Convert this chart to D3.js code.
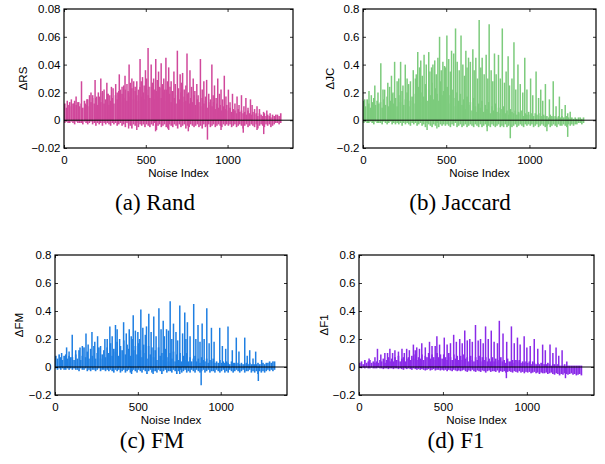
<!DOCTYPE html>
<html><head><meta charset="utf-8">
<script src="https://cdn.jsdelivr.net/npm/d3@7"></script>
<style>body{margin:0;background:#fff}</style></head>
<body>
<svg id="chart" width="605" height="464"></svg>
<script>
// ---------- DATA ----------
const BIN = 10;
const xTickValues = [0, 500, 1000];
const yTicksA = [-0.02, 0, 0.02, 0.04, 0.06, 0.08];
const yTicksB = [-0.2, 0, 0.2, 0.4, 0.6, 0.8];

// (a) Rand
const randBandPos = [0.012,0.009,0.011,0.013,0.010,0.012,0.014,0.011,0.013,0.010,
0.012,0.009,0.014,0.011,0.015,0.010,0.013,0.018,0.012,0.016,
0.011,0.017,0.013,0.020,0.012,0.015,0.019,0.011,0.014,0.016,
0.012,0.018,0.015,0.021,0.013,0.019,0.016,0.022,0.014,0.020,
0.017,0.023,0.015,0.021,0.018,0.014,0.024,0.017,0.020,0.015,
0.022,0.018,0.016,0.024,0.019,0.015,0.021,0.017,0.023,0.016,
0.020,0.014,0.022,0.017,0.019,0.013,0.021,0.016,0.012,0.018,
0.015,0.020,0.013,0.017,0.014,0.019,0.012,0.016,0.013,0.018,
0.011,0.015,0.013,0.010,0.016,0.012,0.014,0.009,0.013,0.011,
0.010,0.013,0.008,0.012,0.009,0.011,0.007,0.010,0.008,0.011,
0.007,0.009,0.006,0.008,0.007,0.005,0.008,0.006,0.007,0.005,
0.006,0.004,0.007,0.005,0.004,0.006,0.004,0.005,0.003,0.005,
0.004,0.003,0.005,0.003,0.004,0.003,0.002,0.004,0.003,0.004,
0.004,0.003,0.005];
const randBandNeg = [-0.002,-0.001,-0.002,-0.002,-0.001,-0.002,-0.003,-0.001,-0.002,-0.002,
-0.002,-0.003,-0.001,-0.002,-0.003,-0.002,-0.001,-0.003,-0.002,-0.004,
-0.002,-0.003,-0.002,-0.004,-0.002,-0.003,-0.002,-0.003,-0.004,-0.002,
-0.003,-0.002,-0.004,-0.003,-0.002,-0.004,-0.003,-0.005,-0.002,-0.003,
-0.004,-0.006,-0.003,-0.004,-0.002,-0.005,-0.003,-0.004,-0.003,-0.005,
-0.003,-0.004,-0.005,-0.003,-0.004,-0.002,-0.007,-0.004,-0.003,-0.005,
-0.004,-0.003,-0.005,-0.006,-0.003,-0.004,-0.005,-0.003,-0.004,-0.006,
-0.003,-0.005,-0.004,-0.003,-0.006,-0.004,-0.005,-0.003,-0.004,-0.005,
-0.004,-0.003,-0.005,-0.004,-0.006,-0.003,-0.005,-0.004,-0.003,-0.005,
-0.004,-0.003,-0.005,-0.004,-0.003,-0.004,-0.005,-0.003,-0.004,-0.003,
-0.004,-0.003,-0.005,-0.004,-0.003,-0.005,-0.004,-0.003,-0.004,-0.006,
-0.004,-0.003,-0.005,-0.004,-0.003,-0.004,-0.005,-0.003,-0.006,-0.004,
-0.003,-0.004,-0.005,-0.003,-0.004,-0.003,-0.005,-0.004,-0.003,-0.002,
-0.002,-0.003,-0.002];
const randSpikeIdx = [20,45,74,107,130,156,175,190,210,225,245,262,280,300,316,338,355,373,385,398,415,426,445,465,480,498,514,533,548,561,578,594,610,623,640,655,672,693,710,725,752,770,790,812,834,855,872,904,920,940,960,980,1005,1030,1058,1085,1112,1140,1150,1195,1220,1260,
60,90,140,165,200,235,270,290,325,345,365,392,405,435,455,472,490,505,520,540,555,570,585,602,615,632,648,662,680,700,718,735,745,760,780,800,820,845,865,885,895,912,930,950,970,990,1015,1045,1070,1100,1125,1165,1180,1240,
395,445,560,640,760,877,960,1096,1180,1221];
const randSpikeVal = [0.014,0.015,0.017,0.028,0.012,0.018,0.016,0.029,0.020,0.030,0.022,0.027,0.018,0.023,0.026,0.033,0.024,0.032,0.026,0.040,0.030,0.028,0.028,0.044,0.031,0.036,0.052,0.040,0.030,0.044,0.035,0.041,0.030,0.045,0.038,0.028,0.035,0.050,0.033,0.034,0.048,0.036,0.030,0.026,0.044,0.028,0.029,0.040,0.025,0.030,0.022,0.032,0.022,0.019,0.017,0.018,0.016,0.015,0.011,0.008,0.006,0.005,
0.012,0.013,0.015,0.020,0.017,0.021,0.019,0.024,0.020,0.022,0.025,0.021,0.027,0.024,0.022,0.028,0.025,0.030,0.024,0.027,0.022,0.029,0.024,0.026,0.022,0.028,0.024,0.021,0.026,0.023,0.027,0.022,0.025,0.020,0.024,0.021,0.018,0.022,0.017,0.019,0.015,0.018,0.016,0.019,0.015,0.017,0.013,0.012,0.011,0.010,0.009,0.008,0.010,0.007,
-0.006,-0.007,-0.008,-0.007,-0.008,-0.014,-0.007,-0.009,-0.007,-0.010];

// (b) Jaccard
const jacBandPos = [0.14,0.10,0.15,0.12,0.09,0.13,0.16,0.11,0.14,0.12,
0.13,0.09,0.15,0.11,0.17,0.10,0.14,0.19,0.12,0.16,
0.10,0.18,0.13,0.21,0.11,0.15,0.20,0.10,0.14,0.17,
0.12,0.19,0.15,0.24,0.13,0.20,0.17,0.26,0.14,0.22,
0.18,0.27,0.15,0.23,0.19,0.14,0.28,0.18,0.21,0.15,
0.24,0.18,0.12,0.22,0.16,0.10,0.20,0.14,0.19,0.11,
0.15,0.08,0.17,0.11,0.13,0.07,0.16,0.10,0.06,0.12,
0.09,0.14,0.06,0.11,0.08,0.13,0.05,0.10,0.07,0.12,
0.06,0.09,0.05,0.08,0.10,0.05,0.07,0.04,0.08,0.06,
0.05,0.07,0.04,0.06,0.05,0.07,0.03,0.05,0.04,0.06,
0.04,0.05,0.03,0.05,0.04,0.03,0.05,0.03,0.04,0.03,
0.03,0.02,0.04,0.03,0.02,0.03,0.02,0.03,0.02,0.03,
0.02,0.02,0.03,0.02,0.01,0.02,0.01,0.02,0.01,0.02,
0.02,0.01,0.02];
const jacBandNeg = [-0.02,-0.01,-0.02,-0.02,-0.01,-0.02,-0.03,-0.01,-0.02,-0.02,
-0.02,-0.03,-0.01,-0.02,-0.03,-0.02,-0.01,-0.03,-0.02,-0.03,
-0.02,-0.03,-0.02,-0.04,-0.02,-0.03,-0.02,-0.03,-0.04,-0.02,
-0.03,-0.02,-0.04,-0.03,-0.02,-0.04,-0.03,-0.05,-0.02,-0.03,
-0.04,-0.05,-0.03,-0.04,-0.02,-0.05,-0.03,-0.04,-0.03,-0.04,
-0.03,-0.04,-0.05,-0.03,-0.04,-0.02,-0.05,-0.04,-0.03,-0.05,
-0.04,-0.03,-0.05,-0.04,-0.03,-0.04,-0.05,-0.03,-0.04,-0.05,
-0.03,-0.05,-0.04,-0.03,-0.05,-0.04,-0.05,-0.03,-0.04,-0.05,
-0.04,-0.03,-0.05,-0.04,-0.05,-0.03,-0.05,-0.04,-0.03,-0.05,
-0.04,-0.03,-0.05,-0.04,-0.03,-0.04,-0.05,-0.03,-0.04,-0.03,
-0.04,-0.03,-0.05,-0.04,-0.03,-0.05,-0.04,-0.03,-0.04,-0.05,
-0.04,-0.03,-0.05,-0.04,-0.03,-0.04,-0.05,-0.03,-0.04,-0.04,
-0.03,-0.04,-0.05,-0.03,-0.04,-0.03,-0.04,-0.03,-0.03,-0.02,
-0.02,-0.03,-0.02];
const jacSpikeIdx = [10,36,71,107,130,149,171,190,205,226,254,274,302,315,329,347,367,395,412,431,460,490,504,532,556,589,618,634,660,678,698,716,740,758,790,814,837,872,907,931,972,1007,1040,1068,1096,1143,1180,1215,1245,
50,90,120,160,180,215,240,265,285,320,340,356,380,402,420,440,450,470,480,496,515,525,545,566,578,600,610,625,645,668,688,708,728,750,770,780,800,825,850,860,880,895,918,945,960,985,1020,1055,1080,1120,1160,1195,1230,
385,444,746,885,1105,1230];
const jacSpikeVal = [0.15,0.21,0.25,0.41,0.22,0.27,0.32,0.42,0.28,0.42,0.40,0.26,0.36,0.30,0.49,0.43,0.47,0.49,0.38,0.43,0.60,0.39,0.61,0.50,0.66,0.61,0.50,0.45,0.51,0.45,0.72,0.45,0.47,0.69,0.48,0.47,0.66,0.46,0.56,0.40,0.45,0.30,0.35,0.22,0.26,0.28,0.17,0.11,0.06,
0.18,0.20,0.22,0.24,0.20,0.30,0.25,0.30,0.28,0.33,0.38,0.32,0.40,0.35,0.40,0.33,0.45,0.36,0.42,0.38,0.44,0.35,0.48,0.42,0.36,0.40,0.32,0.38,0.42,0.36,0.30,0.38,0.33,0.30,0.36,0.28,0.33,0.30,0.27,0.35,0.25,0.30,0.22,0.26,0.20,0.22,0.18,0.16,0.14,0.15,0.10,0.08,0.05,
-0.07,-0.06,-0.08,-0.13,-0.08,-0.12];

// (c) FM
const fmBandPos = [0.08,0.06,0.09,0.07,0.05,0.08,0.09,0.06,0.08,0.07,
0.07,0.05,0.09,0.06,0.12,0.05,0.08,0.14,0.07,0.11,
0.06,0.13,0.08,0.15,0.06,0.10,0.14,0.06,0.09,0.12,
0.07,0.14,0.10,0.17,0.08,0.13,0.11,0.18,0.08,0.15,
0.12,0.19,0.09,0.16,0.13,0.08,0.20,0.12,0.15,0.09,
0.17,0.12,0.07,0.16,0.10,0.06,0.15,0.09,0.14,0.07,
0.12,0.05,0.14,0.08,0.10,0.05,0.13,0.07,0.04,0.10,
0.06,0.11,0.04,0.09,0.05,0.10,0.04,0.08,0.05,0.10,
0.04,0.07,0.04,0.06,0.08,0.04,0.06,0.03,0.07,0.05,
0.04,0.06,0.03,0.05,0.04,0.06,0.03,0.04,0.03,0.05,
0.03,0.04,0.03,0.04,0.03,0.02,0.04,0.03,0.03,0.02,
0.03,0.02,0.03,0.02,0.02,0.03,0.02,0.03,0.02,0.02,
0.02,0.02,0.03,0.02,0.02,0.03,0.02,0.03,0.03,0.04,
0.03,0.04,0.04];
const fmBandNeg = [-0.01,-0.02,-0.01,-0.02,-0.01,-0.02,-0.02,-0.01,-0.02,-0.01,
-0.02,-0.01,-0.02,-0.02,-0.03,-0.01,-0.02,-0.02,-0.01,-0.03,
-0.02,-0.03,-0.02,-0.02,-0.03,-0.02,-0.01,-0.03,-0.02,-0.02,
-0.03,-0.02,-0.03,-0.02,-0.03,-0.04,-0.02,-0.03,-0.02,-0.04,
-0.03,-0.02,-0.04,-0.03,-0.02,-0.04,-0.03,-0.02,-0.03,-0.04,
-0.02,-0.03,-0.04,-0.02,-0.03,-0.05,-0.03,-0.02,-0.04,-0.03,
-0.03,-0.04,-0.02,-0.03,-0.05,-0.03,-0.02,-0.04,-0.03,-0.03,
-0.04,-0.02,-0.03,-0.05,-0.03,-0.02,-0.04,-0.03,-0.02,-0.04,
-0.03,-0.04,-0.02,-0.03,-0.04,-0.02,-0.03,-0.04,-0.03,-0.02,
-0.04,-0.03,-0.02,-0.04,-0.03,-0.03,-0.04,-0.02,-0.03,-0.04,
-0.03,-0.02,-0.04,-0.03,-0.04,-0.02,-0.03,-0.04,-0.03,-0.02,
-0.03,-0.04,-0.03,-0.02,-0.04,-0.03,-0.03,-0.02,-0.04,-0.03,
-0.04,-0.03,-0.05,-0.03,-0.04,-0.03,-0.04,-0.03,-0.02,-0.03,
-0.02,-0.03,-0.02];
const fmSpikeIdx = [70,104,151,187,223,257,301,331,365,375,414,448,472,500,518,552,566,596,627,653,673,695,715,753,783,799,837,863,888,916,944,994,1044,1094,1145,1175,1211,1247,
40,85,125,165,200,240,275,315,345,390,430,460,485,510,530,545,580,610,640,660,685,705,730,740,770,790,815,850,875,900,930,960,1010,1030,1070,1110,1160,1195,
462,592,753,882,1227];
const fmSpikeVal = [0.14,0.23,0.14,0.24,0.25,0.22,0.20,0.29,0.30,0.27,0.32,0.27,0.37,0.25,0.41,0.29,0.38,0.36,0.42,0.33,0.27,0.47,0.31,0.44,0.39,0.32,0.45,0.30,0.31,0.42,0.28,0.28,0.29,0.21,0.21,0.12,0.11,0.05,
0.10,0.11,0.12,0.15,0.16,0.18,0.15,0.20,0.22,0.20,0.24,0.22,0.26,0.20,0.28,0.23,0.25,0.22,0.27,0.22,0.26,0.20,0.25,0.19,0.24,0.20,0.22,0.20,0.18,0.20,0.17,0.18,0.15,0.13,0.12,0.11,0.08,0.06,
-0.05,-0.05,-0.05,-0.13,-0.10];

// (d) F1
const f1BandPos = [0.03,0.04,0.02,0.05,0.03,0.04,0.05,0.03,0.04,0.03,
0.04,0.03,0.05,0.04,0.06,0.03,0.05,0.07,0.04,0.06,
0.04,0.07,0.05,0.08,0.04,0.06,0.07,0.04,0.06,0.07,
0.05,0.08,0.06,0.09,0.05,0.07,0.06,0.09,0.05,0.08,
0.07,0.10,0.06,0.09,0.07,0.05,0.10,0.07,0.09,0.06,
0.09,0.07,0.05,0.10,0.07,0.05,0.09,0.06,0.08,0.05,
0.08,0.05,0.09,0.06,0.07,0.04,0.08,0.05,0.04,0.07,
0.05,0.08,0.04,0.07,0.05,0.07,0.04,0.06,0.04,0.07,
0.04,0.06,0.04,0.05,0.07,0.04,0.05,0.03,0.06,0.04,
0.04,0.05,0.03,0.05,0.04,0.05,0.03,0.04,0.03,0.04,
0.03,0.04,0.02,0.04,0.03,0.02,0.03,0.02,0.03,0.02,
0.02,0.02,0.03,0.02,0.01,0.02,0.02,0.01,0.02,0.01,
0.01,0.01,0.02,0.01,0.01,0.01,0.01,0.01,0.01,0.01,
0.01,0.01,0.01];
const f1BandNeg = [-0.005,-0.01,-0.005,-0.01,-0.005,-0.01,-0.01,-0.005,-0.01,-0.01,
-0.01,-0.005,-0.01,-0.01,-0.015,-0.01,-0.01,-0.015,-0.01,-0.01,
-0.015,-0.01,-0.01,-0.015,-0.01,-0.015,-0.02,-0.01,-0.015,-0.01,
-0.015,-0.02,-0.01,-0.015,-0.02,-0.015,-0.02,-0.015,-0.02,-0.025,
-0.02,-0.015,-0.025,-0.02,-0.015,-0.025,-0.02,-0.02,-0.025,-0.02,
-0.025,-0.02,-0.03,-0.02,-0.025,-0.03,-0.02,-0.025,-0.03,-0.025,
-0.03,-0.025,-0.02,-0.03,-0.035,-0.025,-0.03,-0.02,-0.03,-0.035,
-0.025,-0.03,-0.035,-0.025,-0.03,-0.04,-0.03,-0.025,-0.035,-0.03,
-0.03,-0.035,-0.025,-0.04,-0.03,-0.035,-0.03,-0.04,-0.035,-0.03,
-0.035,-0.04,-0.03,-0.035,-0.04,-0.03,-0.04,-0.035,-0.045,-0.035,
-0.04,-0.035,-0.045,-0.04,-0.035,-0.045,-0.04,-0.05,-0.04,-0.045,
-0.045,-0.04,-0.05,-0.045,-0.04,-0.05,-0.055,-0.045,-0.05,-0.06,
-0.05,-0.055,-0.045,-0.05,-0.055,-0.05,-0.045,-0.055,-0.05,-0.06,
-0.055,-0.05,-0.06];
const f1SpikeIdx = [110,154,184,214,256,284,324,344,374,420,454,464,508,564,600,630,660,694,724,754,788,836,858,908,944,984,1044,1094,1138,1174,1210,1238,
60,95,130,170,200,235,270,300,335,360,395,435,480,525,545,580,615,645,675,710,740,770,805,825,880,925,960,1000,1020,1065,1110,1155,1190,
878,1230];
const f1SpikeVal = [0.13,0.10,0.13,0.12,0.13,0.13,0.16,0.14,0.17,0.18,0.15,0.22,0.21,0.23,0.20,0.26,0.20,0.30,0.20,0.29,0.26,0.33,0.24,0.29,0.21,0.22,0.20,0.16,0.16,0.14,0.12,0.04,
0.06,0.07,0.09,0.10,0.10,0.11,0.10,0.12,0.12,0.13,0.14,0.15,0.16,0.16,0.17,0.18,0.17,0.19,0.18,0.19,0.17,0.20,0.18,0.17,0.18,0.17,0.16,0.14,0.15,0.13,0.12,0.10,0.08,
-0.08,-0.08];

// ---------- LAYOUT / STYLE ----------
const panels = [
  {ylab:"ΔRS", cap:"(a) Rand", color:"#d0489b", pos:randBandPos, neg:randBandNeg, sIdx:randSpikeIdx, sVal:randSpikeVal,
   yTicks:yTicksA, yDom:[-0.02,0.08], dec:2, box:{l:64,r:293,t:9,b:148}, ylabX:23, capX:155, capY:210},
  {ylab:"ΔJC", cap:"(b) Jaccard", color:"#7ccb7c", pos:jacBandPos, neg:jacBandNeg, sIdx:jacSpikeIdx, sVal:jacSpikeVal,
   yTicks:yTicksB, yDom:[-0.2,0.8], dec:1, box:{l:363,r:596,t:9,b:148}, ylabX:330, capX:460, capY:210},
  {ylab:"ΔFM", cap:"(c) FM", color:"#1f7fe2", pos:fmBandPos, neg:fmBandNeg, sIdx:fmSpikeIdx, sVal:fmSpikeVal,
   yTicks:yTicksB, yDom:[-0.2,0.8], dec:1, box:{l:55,r:287,t:255,b:395}, ylabX:19, capX:152, capY:448},
  {ylab:"ΔF1", cap:"(d) F1", color:"#8a2ae8", pos:f1BandPos, neg:f1BandNeg, sIdx:f1SpikeIdx, sVal:f1SpikeVal,
   yTicks:yTicksB, yDom:[-0.2,0.8], dec:1, box:{l:359,r:594,t:255,b:395}, ylabX:324, capX:456, capY:448}
];

const svg = d3.select("#chart");
const SANS = "'Liberation Sans', Arial, Helvetica, sans-serif";
const SERIF = "'Liberation Serif', 'Times New Roman', serif";

panels.forEach(p => {
  const B = p.box;
  const x = d3.scaleLinear().domain([0, 1400]).range([B.l, B.r]);
  const y = d3.scaleLinear().domain(p.yDom).range([B.b, B.t]);
  const g = svg.append("g");
  const bw = x(BIN) - x(0);

  g.append("g").selectAll("rect").data(p.pos).join("rect")
    .attr("x", (d, i) => x(i * BIN)).attr("width", bw)
    .attr("y", d => y(d)).attr("height", d => y(0) - y(d))
    .attr("fill", p.color);
  g.append("g").selectAll("rect").data(p.neg).join("rect")
    .attr("x", (d, i) => x(i * BIN)).attr("width", bw)
    .attr("y", y(0)).attr("height", d => y(d) - y(0))
    .attr("fill", p.color);

  const spikes = p.sIdx.map((v, i) => ({i: v, v: p.sVal[i]}));
  g.append("g").selectAll("line").data(spikes).join("line")
    .attr("x1", d => x(d.i)).attr("x2", d => x(d.i))
    .attr("y1", y(0)).attr("y2", d => y(d.v))
    .attr("stroke", p.color).attr("stroke-width", 1.5);

  g.append("line").attr("x1", B.l).attr("x2", B.r).attr("y1", y(0)).attr("y2", y(0))
    .attr("stroke", "#000").attr("stroke-width", 1);

  const fmt = v => v === 0 ? "0" : d3.format("." + p.dec + "f")(v);
  const styleAxis = sel => {
    sel.select(".domain").remove();
    sel.selectAll(".tick line").attr("stroke", "#000").attr("stroke-width", 0.8);
    sel.selectAll("text").attr("font-family", SANS).attr("font-size", 11.5).attr("fill", "#000");
  };
  g.append("g").attr("transform", `translate(${B.l},0)`)
    .call(d3.axisLeft(y).tickValues(p.yTicks).tickFormat(fmt).tickSizeInner(-3).tickSizeOuter(0).tickPadding(3.5))
    .call(styleAxis);
  g.append("g").attr("transform", `translate(${B.r},0)`)
    .call(d3.axisRight(y).tickValues(p.yTicks).tickFormat("").tickSizeInner(-3).tickSizeOuter(0))
    .call(styleAxis);
  g.append("g").attr("transform", `translate(0,${B.b})`)
    .call(d3.axisBottom(x).tickValues(xTickValues).tickFormat(d3.format("d")).tickSizeInner(-3).tickSizeOuter(0).tickPadding(7.5))
    .call(styleAxis);
  g.append("g").attr("transform", `translate(0,${B.t})`)
    .call(d3.axisTop(x).tickValues(xTickValues).tickFormat("").tickSizeInner(-3).tickSizeOuter(0))
    .call(styleAxis);

  g.append("rect").attr("x", B.l).attr("y", B.t).attr("width", B.r - B.l).attr("height", B.b - B.t)
    .attr("fill", "none").attr("stroke", "#000").attr("stroke-width", 1.2);

  g.append("text").attr("x", (B.l + B.r) / 2).attr("y", B.b + 28.5)
    .attr("text-anchor", "middle").attr("font-family", SANS).attr("font-size", 11.5).text("Noise Index");
  g.append("text").attr("transform", `translate(${p.ylabX},${(B.t + B.b) / 2}) rotate(-90)`)
    .attr("dy", "0.35em").attr("text-anchor", "middle").attr("font-family", SANS).attr("font-size", 11.5).text(p.ylab);
  g.append("text").attr("x", p.capX).attr("y", p.capY).attr("text-anchor", "middle")
    .attr("font-family", SERIF).attr("font-size", 23).text(p.cap);
});
</script>
</body></html>
